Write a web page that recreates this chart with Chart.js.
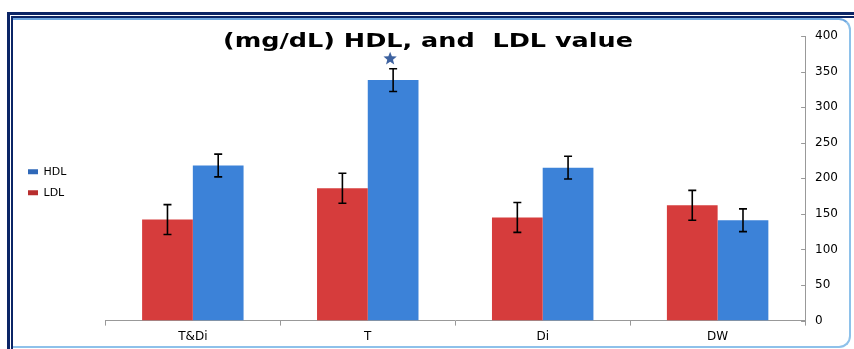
<!DOCTYPE html>
<html>
<head>
<meta charset="utf-8">
<script src="https://cdn.jsdelivr.net/npm/chart.js@4"></script>
<style>
  body { margin: 0; background: #fff; }
  #wrap { position: relative; width: 854px; height: 349px; overflow: hidden; }
  #myChart { position: absolute; left: 0; top: 0; }
  .ln { position: absolute; background: #0b2566; }
  #inner { position: absolute; left: 13px; top: 18px; width: 836px; height: 326px;
           border-top: 2px solid #6fa8e0; border-bottom: 2px solid #8ec1ea; border-right: 2px solid #8ec1ea;
           border-radius: 0 12px 12px 0; }
</style>
</head>
<body>
<div id="wrap">
  <canvas id="myChart" width="854" height="349"></canvas>
  <div id="inner"></div>
  <div class="ln" style="left:7px; top:12px; width:847px; height:3px;"></div>
  <div class="ln" style="left:11px; top:16px; width:843px; height:2px;"></div>
  <div class="ln" style="left:7px; top:12px; width:3px; height:337px;"></div>
  <div class="ln" style="left:11px; top:16px; width:2px; height:333px;"></div>
</div>
<script>
// chart data
const groups = ['T&Di', 'T', 'Di', 'DW'];
const ldlValues = [142, 186, 145, 162];
const hdlValues = [218, 338, 215, 141];
const ldlErrors = [21, 21, 21, 21];
const hdlErrors = [16, 16, 16, 16];
const yTicks = [0, 50, 100, 150, 200, 250, 300, 350, 400];
const starGroup = 'T';   // significant mark above HDL bar

const fontName = "'DejaVu Sans', Verdana, sans-serif";

// Error bars drawn from the arrays above
const errorBars = {
    id: 'errorBars',
    afterDatasetsDraw(chart) {
        const ctx = chart.ctx;
        const y = chart.scales.y;
        chart.data.datasets.forEach((ds, di) => {
            const meta = chart.getDatasetMeta(di);
            meta.data.forEach((bar, i) => {
                const v = ds.data[i];
                const e = ds.errors[i];
                const top = y.getPixelForValue(v + e);
                const bot = y.getPixelForValue(v - e);
                ctx.save();
                ctx.strokeStyle = '#000';
                ctx.lineWidth = 1.6;
                ctx.beginPath();
                ctx.moveTo(bar.x, top); ctx.lineTo(bar.x, bot);
                ctx.moveTo(bar.x - 4, top); ctx.lineTo(bar.x + 4, top);
                ctx.moveTo(bar.x - 4, bot); ctx.lineTo(bar.x + 4, bot);
                ctx.stroke();
                ctx.restore();
            });
        });

        // star above the T HDL bar
        const idx = groups.indexOf(starGroup);
        const bar = chart.getDatasetMeta(1).data[idx];
        const sy = y.getPixelForValue(hdlValues[idx] + hdlErrors[idx]) - 10;
        const sx = bar.x - 3;
        ctx.save();
        ctx.fillStyle = '#3d62a0';
        ctx.beginPath();
        for (let k = 0; k < 10; k++) {
            const r = k % 2 === 0 ? 7 : 3;
            const a = -Math.PI / 2 + k * Math.PI / 5;
            const px = sx + r * Math.cos(a), py = sy + r * Math.sin(a);
            if (k === 0) ctx.moveTo(px, py); else ctx.lineTo(px, py);
        }
        ctx.closePath();
        ctx.fill();
        ctx.restore();
    }
};

// Title sits inside the plot area, so it's drawn by hand
const titleText = {
    id: 'titleText',
    afterDraw(chart) {
        const ctx = chart.ctx;
        const txt = '(mg/dL) HDL, and  LDL value';
        ctx.save();
        ctx.font = "bold 20px " + fontName;
        ctx.fillStyle = '#000';
        ctx.textAlign = 'center';
        ctx.textBaseline = 'middle';
        const w = ctx.measureText(txt).width;
        ctx.translate(428, 42);
        ctx.scale(410 / w, 1);
        ctx.fillText(txt, 0, 0);
        ctx.restore();
    }
};

// small inward ticks on the right axis
const innerTicks = {
    id: 'innerTicks',
    afterDraw(chart) {
        const ctx = chart.ctx;
        const y = chart.scales.y;
        ctx.save();
        ctx.strokeStyle = '#999';
        ctx.lineWidth = 1;
        yTicks.forEach(t => {
            const py = Math.round(y.getPixelForValue(t)) + 0.5;
            ctx.beginPath();
            ctx.moveTo(y.left - 4, py); ctx.lineTo(y.left, py);
            ctx.stroke();
        });
        ctx.restore();
    }
};

function barFill(base, edge) {
    return function(context) {
        const el = context.element;
        if (!el || el.width === undefined) return base;
        const c = context.chart.ctx;
        const x0 = el.x - el.width / 2, x1 = el.x + el.width / 2;
        const g = c.createLinearGradient(x0, 0, x1, 0);
        g.addColorStop(0, edge);
        g.addColorStop(0.12, base);
        g.addColorStop(0.85, base);
        g.addColorStop(1, edge);
        return g;
    };
}

const myChart = new Chart(document.getElementById('myChart'), {
    type: 'bar',
    data: {
        labels: groups,
        datasets: [
            {
                label: 'LDL',
                data: ldlValues,
                errors: ldlErrors,
                backgroundColor: barFill('#d63c3c', '#b82e2e'),
                borderWidth: 0,
                categoryPercentage: 0.58,
                barPercentage: 1.0
            },
            {
                label: 'HDL',
                data: hdlValues,
                errors: hdlErrors,
                backgroundColor: barFill('#3c82d8', '#2f68b8'),
                borderWidth: 0,
                categoryPercentage: 0.58,
                barPercentage: 1.0
            }
        ]
    },
    options: {
        responsive: false,
        animation: false,
        layout: { padding: { left: 18, right: 6, top: 36, bottom: 1 } },
        plugins: {
            title: { display: false },
            tooltip: { enabled: false },
            legend: {
                position: 'left',
                align: 'start',
                reverse: true,
                // blank legend title only used to push the items down
                title: { display: true, text: ' ', font: { size: 1 }, padding: { top: 119, bottom: 0 } },
                labels: {
                    boxWidth: 10,
                    boxHeight: 5,
                    padding: 10,
                    color: '#000',
                    font: { family: fontName, size: 11 }
                }
            }
        },
        scales: {
            x: {
                grid: { display: true, drawOnChartArea: false, tickLength: 5, color: '#999', offset: true },
                border: { color: '#999' },
                ticks: { color: '#000', font: { family: fontName, size: 12 }, padding: 4 }
            },
            y: {
                position: 'right',
                min: 0,
                max: 400,
                afterBuildTicks(axis) { axis.ticks = yTicks.map(v => ({ value: v })); },
                grid: { display: false, drawTicks: false },
                border: { display: true, color: '#999' },
                ticks: { color: '#000', font: { family: fontName, size: 12 }, padding: 10 }
            },
            // empty spacer between legend and plot
            gap: {
                position: 'left',
                display: true,
                grid: { display: false, drawTicks: false },
                border: { display: false },
                ticks: { display: false },
                afterFit(axis) { axis.width = 29; }
            }
        }
    },
    plugins: [errorBars, titleText, innerTicks]
});
</script>
</body>
</html>
